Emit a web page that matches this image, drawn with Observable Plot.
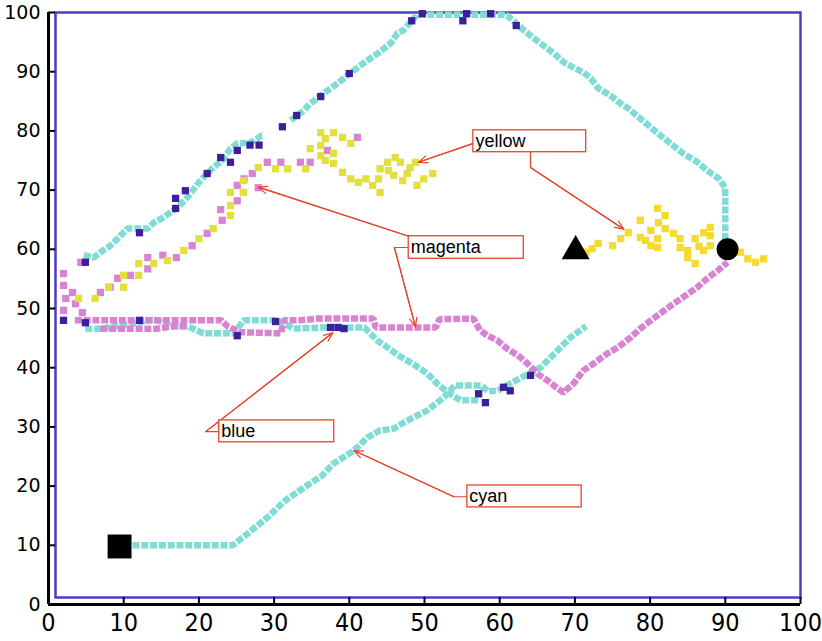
<!DOCTYPE html>
<html><head><meta charset="utf-8">
<script src="https://cdn.jsdelivr.net/npm/d3@7"></script>
<script src="https://cdn.jsdelivr.net/npm/@observablehq/plot@0.6"></script>
<style>body{margin:0;background:#fff}</style>
</head><body><div id="chart"></div>
<script>
const xTicks = [0,10,20,30,40,50,60,70,80,90,100];
const yTicks = [0,10,20,30,40,50,60,70,80,90,100];

// cyan trajectories (dense markers)
const cyanLower = [[10,10],[24.5,10],[26.5,12],[29.1,14.7],[31.5,17.6],[34.4,20.1],[36.4,21.8],[37.9,23.8],[40.6,26],[42.4,28.2],[44.1,29.4],[45.9,29.7],[47.2,30.7],[49,31.9],[50.4,32.8],[52.1,34.5],[53.1,35.6],[54,37],[57.5,37],[58.5,36],[59.7,36.1],[62.8,38.3],[65.4,40],[67.7,42.9],[69.4,45.1],[71.5,47]];
const cyanMid = [[4.9,46.6],[7,46.6],[9,47],[13.5,48],[14.5,48],[16.6,47],[18.5,47],[20.6,45.8],[24.6,45.8],[26,48],[30.5,48],[32.6,46.6],[36.5,46.8],[42,46.8],[43.7,44.6],[45.1,43.4],[46.5,42.1],[48.4,40.7],[50.4,39],[51.7,37.3],[53.1,35.8],[54.8,34.5],[57.4,34.5]];
const cyanUpper = [[4.7,59],[6,58.6],[6.9,59.5],[8.2,60.6],[9.2,61.8],[10.5,63.5],[13.2,63.5],[14,64.5],[15.3,65.4],[17.1,67],[18.5,68.8],[20.2,71.6],[21.9,73.8],[23.1,75],[24.2,77],[25.1,77.9],[26.9,78],[28.3,79.2],[28.6,79.2]];
const cyanTop = [[32.2,81.8],[33.9,83.4],[34.8,84.6],[37.1,86.8],[38.4,88],[41.1,90.7],[42.4,91.9],[43.8,93.1],[45.5,94.8],[46.4,96.5],[47.2,97],[49,99.6],[60.5,99.6],[61,99.5],[61.8,98.6],[63.2,97],[65.2,95],[67.2,93.1],[68.5,91.6],[69.4,91],[71.1,89.9],[72.1,88.9],[73.1,87.2],[74.7,86],[76.1,84.6],[77.1,83.8],[78.5,82.3],[80.1,80.6],[81.4,79.2],[83.1,77.5],[84.4,76.2],[86.3,74.7],[87.6,73.3],[89.1,72],[90,70.4],[90,60]];

// magenta trajectories
const magentaBandA = [[3.5,48],[23,48],[23.8,47],[25.5,46],[30.9,45.8],[31.3,48],[33.5,48],[35.8,48.3],[43.2,48.3],[43.5,46.8],[51.5,46.8],[52,48.2],[56.5,48.3],[57.4,46.3],[58.4,45.4],[59.7,44.6],[61,43.2],[62.4,42.1],[63.7,40.7],[65,39],[66.4,37.8],[67.7,36.5],[68.5,35.8],[69.8,37.3],[71.1,39.5],[72.5,40.7],[74.3,42.4],[75.7,43.4],[77.4,45.1],[78.7,46.6],[80.1,48],[81.4,49.2],[83.1,50.8],[84.4,51.9],[86.3,53.6],[87.6,55.1],[89,56.4],[90.3,57.8]];
const magentaBandB = [[6.9,46.6],[14.5,46.6],[16.6,47],[18.5,47]];
const magentaDots = [[2,55.9],[2,53.9],[3.2,52.7],[2.3,51.7],[3.6,50.8],[2,49.7],[4.5,49.3],[4.3,57.8],[6.9,52.7],[8.2,53.6],[9.2,55.1],[10.9,55.6],[13.2,56.7],[13.2,58.6],[15.2,59],[17,58.6],[19.1,60.6],[21.1,62.7],[23.1,64.9],[22.9,66.7],[25.1,68.2],[25.1,70.8],[27.9,70.4],[26,71.9],[27.1,72.8],[29.1,74.7],[30.9,74.7],[33.5,74.7],[34.8,74.7],[37.1,76.7],[41.1,78.9]];

// yellow trajectories
const yellowLeft = [[4,51.7],[6.2,51.7],[8,53.6],[10,53.6],[10,55.6],[12,55.6],[12,57.6],[14,57.6],[15.8,58.1],[18,59.8],[20,61.8],[21.9,63.5],[24.2,65.7],[24.2,67.4],[24.2,69.6],[25.9,69.6],[25.9,71.6],[27.9,73.8],[30.2,73.6],[31.8,73.6],[34.2,73.6],[36.2,79.7],[37.9,79.7],[36.8,78.7],[39.1,78.9],[40.2,77.9],[36.2,77.5],[34.8,77],[36.2,75.8],[37.9,76.2],[36.8,75],[37.9,74.5],[39.1,73],[40.2,71.9],[41.2,71.3],[42.2,71.9],[43.1,70.8],[44.1,69.6],[43.9,71.9],[44.1,73.6],[45.1,74.7],[46.1,75.5],[46.8,74.7],[45.2,73.3],[45.9,72.5],[47.1,71.6],[48.1,73.8],[48.8,74.7],[47.7,72.8],[49,70.8],[49.9,71.9],[51.1,72.8]];
const yellowRight = [[70.5,59],[71.5,59.5],[72.3,60.1],[73.1,61],[75,60.6],[76.1,61.8],[77.1,62.8],[78.7,62],[78.7,64.9],[80.1,63.2],[80.1,60.6],[79.4,61.5],[81,66.9],[82,65.7],[81.1,64.5],[81,61.8],[81,60.3],[82,63.5],[83.1,62.7],[84,61.8],[84,60.3],[85,59.8],[85,58.6],[86,57.6],[86,61.8],[87.1,62.8],[88,63.7],[87.1,59.8],[88,60.6],[88,62.3],[86.5,60.5],[91.2,59.5],[92,59.5],[93,58.4],[94,57.8],[95.1,58.4]];

// blue markers
const blueDots = [[2,48],[4.9,47.6],[12.1,48],[4.9,57.8],[12.1,62.8],[16.9,68.6],[16.9,66.9],[18.2,69.9],[21.1,72.8],[22.9,75.5],[24.2,74.7],[25.1,76.7],[26.8,77.6],[28,77.6],[31.1,80.7],[33,82.6],[36.2,85.8],[40,89.7],[48.3,98.6],[55.1,98.6],[62.2,97.8],[37.5,46.8],[38.5,46.8],[39.3,46.6],[57.2,35.6],[58.1,34.1],[60.5,36.7],[61.4,36.1],[64.1,38.7],[25.1,45.4],[30.2,47.8],[49.7,99.8],[55.6,99.8],[58.8,99.8]];

// start / goal markers
const startSquare = [[9.45,9.8]];
const triangleMark = [[70.1,59.7]];
const circleMark = [[90.3,60]];

// annotations (data coordinates)
const labelBoxes = [
  {label:"yellow",  x1:56.5, x2:71.5, y1:76.4, y2:80.1},
  {label:"magenta", x1:47.9, x2:63.2, y1:58.4, y2:62.2},
  {label:"blue",    x1:22.7, x2:38.0, y1:27.4, y2:31.1},
  {label:"cyan",    x1:55.7, x2:70.9, y1:16.4, y2:20.1}
];
const leaders = [
  {id:"y1", pts:[[56.5,77.9],[49.2,74.7]]},
  {id:"y2", pts:[[64.1,76.4],[64.1,73.8],[76.5,63.4]]},
  {id:"m1", pts:[[47.9,62.2],[27.9,70.5]]},
  {id:"m2", pts:[[47.9,60.3],[46.0,60.3],[48.8,46.9]]},
  {id:"b1", pts:[[22.7,29.2],[20.9,29.2],[37.8,45.9]]},
  {id:"c1", pts:[[55.7,18.2],[53.9,18.2],[40.6,26]]}
];

const rows = a => a.map(([x,y]) => ({x,y}));
const leaderLines = leaders.flatMap(l => l.pts.map(([x,y]) => ({id:l.id, x, y})));
const leaderHeads = leaders.map(l => {
  const n = l.pts.length;
  return {x1:l.pts[n-2][0], y1:l.pts[n-2][1], x2:l.pts[n-1][0], y2:l.pts[n-1][1]};
});

const CYAN = "#80dcd4", MAG = "#d884d2", YEL = "#e2e03c", YEL2 = "#f3dc2e", BLUE = "#3d1f9c", RED = "#e8432c", FRAME = "#4b3cc0";
const dash = {strokeWidth:6.5, strokeDasharray:"7,1.8", strokeLinecap:"butt", strokeLinejoin:"miter"};
const R = 4.1;

const chart = Plot.plot({
  width: 822, height: 641,
  marginLeft: 48, marginRight: 22, marginTop: 12, marginBottom: 37,
  x: {domain:[0,100], label:null},
  y: {domain:[0,100], label:null},
  style: {background:"white", fontFamily:"DejaVu Sans", color:"black"},
  marks: [
    Plot.frame({stroke:FRAME, strokeWidth:2.5, insetLeft:7, insetBottom:7}),
    Plot.ruleX(xTicks, {y1:0, y2:1.2, stroke:"black", strokeWidth:2}),
    Plot.ruleY(yTicks, {x1:0, x2:0.93, stroke:"black", strokeWidth:2}),
    Plot.ruleX([0], {stroke:"black", strokeWidth:3}),
    Plot.ruleY([0], {stroke:"black", strokeWidth:3}),
    Plot.axisY(yTicks, {tickSize:0, tickPadding:8, fontSize:19, fontFamily:"DejaVu Sans", fill:"black"}),
    Plot.axisX(xTicks, {tickSize:0, tickPadding:9, fontSize:25, fontFamily:"Liberation Sans Narrow, DejaVu Sans Condensed, sans-serif", fill:"black"}),
    Plot.line(rows(cyanLower), {x:"x", y:"y", stroke:CYAN, ...dash}),
    Plot.line(rows(cyanMid), {x:"x", y:"y", stroke:CYAN, ...dash}),
    Plot.line(rows(cyanUpper), {x:"x", y:"y", stroke:CYAN, ...dash}),
    Plot.line(rows(cyanTop), {x:"x", y:"y", stroke:CYAN, ...dash}),
    Plot.line(rows(magentaBandA), {x:"x", y:"y", stroke:MAG, ...dash}),
    Plot.line(rows(magentaBandB), {x:"x", y:"y", stroke:MAG, ...dash}),
    Plot.dot(rows(magentaDots), {x:"x", y:"y", symbol:"square", r:R, fill:MAG}),
    Plot.dot(rows(yellowLeft), {x:"x", y:"y", symbol:"square", r:R, fill:YEL}),
    Plot.dot(rows(yellowRight), {x:"x", y:"y", symbol:"square", r:R, fill:YEL2}),
    Plot.dot(rows(blueDots), {x:"x", y:"y", symbol:"square", r:R, fill:BLUE}),
    Plot.dot(rows(startSquare), {x:"x", y:"y", symbol:"square", r:13.5, fill:"black"}),
    Plot.dot(rows(triangleMark), {x:"x", y:"y", symbol:"triangle", r:10.4, fill:"black"}),
    Plot.dot(rows(circleMark), {x:"x", y:"y", symbol:"circle", r:11, fill:"black"}),
    Plot.line(leaderLines, {x:"x", y:"y", z:"id", stroke:RED, strokeWidth:1.2}),
    Plot.arrow(leaderHeads, {x1:"x1", y1:"y1", x2:"x2", y2:"y2", stroke:RED, strokeWidth:1.2, headLength:12, headAngle:45}),
    Plot.rect(labelBoxes, {x1:"x1", x2:"x2", y1:"y1", y2:"y2", fill:"white", stroke:RED, strokeWidth:1.3}),
    Plot.text(labelBoxes, {x:"x1", y:d => (d.y1 + d.y2) / 2, text:"label", textAnchor:"start", dx:2, fontSize:18, fontFamily:"Liberation Sans, Arial, sans-serif", fill:"black"})
  ]
});
document.getElementById("chart").append(chart);
</script>
</body></html>
